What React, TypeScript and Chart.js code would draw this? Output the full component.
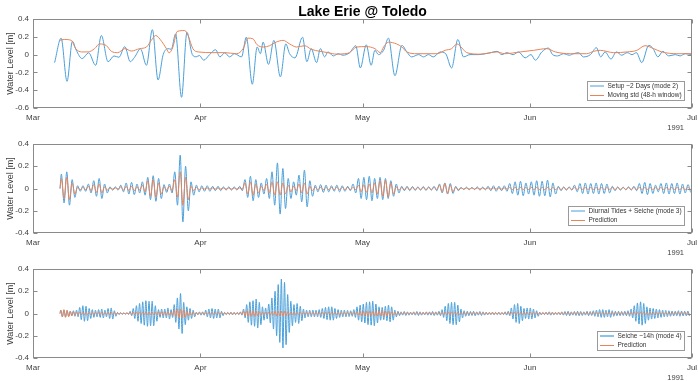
import { useEffect, useRef } from "react";
import { Chart, registerables } from "chart.js";
Chart.register(...registerables);

// ---------- axes ----------
const tickDays = [0, 31, 61, 92, 122]; // days since 1 Mar 1991
const tickLabels = ["Mar", "Apr", "May", "Jun", "Jul"];
const yearLabel = "1991";
const titleText = "Lake Erie @ Toledo";
const yLabel = "Water Level [m]";
const yTicks1 = [-0.6, -0.4, -0.2, 0, 0.2, 0.4];
const yTicks23 = [-0.4, -0.2, 0, 0.2, 0.4];

// ---------- panel 1: setup mode 2 (day, value) ----------
const setupDays = [4.0, 5.2, 6.3, 7.3, 8.0, 9.1, 10.3, 11.6, 12.65, 13.9, 15.0, 15.9, 17.0, 18.0, 18.8, 19.9, 21.0, 22.1, 23.15, 24.1, 25.0, 25.6, 26.4, 27.5, 28.5, 29.5, 30.2, 30.8, 31.6, 32.7, 33.8, 34.6, 35.5, 36.4, 37.3, 38.6, 39.5, 40.6, 41.5, 42.1, 42.6, 43.6, 44.6, 45.8, 46.8, 47.5, 48.5, 49.9, 50.7, 51.5, 52.5, 53.2, 54.0, 54.6, 55.6, 56.5, 57.4, 58.6, 59.75, 60.6, 61.7, 62.6, 63.3, 63.95, 64.9, 65.8, 67.0, 68.3, 69.2, 70.1, 71.4, 72.3, 73.2, 74.1, 75.4, 76.4, 77.5, 78.65, 79.7, 80.9, 82.5, 83.7, 84.8, 85.9, 86.8, 87.7, 88.9, 89.9, 91.1, 92.2, 93.0, 94.2, 95.4, 96.2, 97.1, 98.2, 99.3, 100.1, 101.0, 101.9, 103.2, 104.3, 105.1, 105.9, 107.0, 108.0, 109.0, 110.0, 110.9, 111.7, 112.7, 114.0, 114.8, 115.7, 116.6, 117.7, 118.9, 119.8, 120.75, 122.0];
const setupVals = [-0.09, 0.185, -0.3, 0.15, 0.05, -0.045, 0.02, -0.12, 0.215, -0.08, -0.015, -0.03, 0.09, -0.08, -0.03, 0.065, -0.12, 0.28, -0.285, 0.0, 0.067, 0.06, 0.233, -0.48, 0.25, 0.0, -0.025, -0.01, -0.063, 0.0, 0.055, -0.026, 0.02, -0.026, 0.01, -0.026, 0.196, -0.333, 0.085, 0.01, 0.14, -0.11, 0.16, -0.25, 0.12, 0.01, -0.037, 0.196, -0.08, 0.067, -0.09, 0.067, -0.026, 0.03, -0.015, 0.01, -0.007, 0.02, 0.1, -0.15, 0.11, -0.12, 0.048, 0.0, 0.048, 0.185, -0.237, 0.104, 0.03, -0.026, 0.0, -0.026, 0.0, -0.026, 0.03, 0.01, -0.15, 0.17, -0.026, 0.0, 0.0, 0.01, 0.022, 0.037, 0.0, 0.022, 0.0, 0.03, -0.037, 0.0, -0.063, 0.03, 0.074, 0.0, -0.015, 0.01, -0.007, 0.01, 0.022, -0.026, 0.0, 0.078, -0.026, 0.03, -0.05, 0.03, -0.007, 0.022, 0.0, 0.022, -0.09, 0.104, 0.067, -0.026, 0.037, -0.015, 0.0, -0.015, 0.01, 0.0];

// ---------- panel 1: moving std (day, value) ----------
const stdDays = [4.9, 5.8, 7.1, 7.9, 9.0, 10.2, 11.4, 12.3, 13.6, 14.5, 15.7, 17.0, 18.2, 19.75, 21.0, 21.9, 22.7, 23.8, 24.7, 25.2, 25.9, 26.7, 28.1, 28.7, 29.6, 30.6, 33.3, 35.5, 37.7, 38.9, 39.8, 40.7, 41.5, 42.6, 43.8, 45.0, 46.3, 47.5, 48.8, 50.3, 51.5, 53.1, 54.6, 56.2, 57.7, 58.6, 59.9, 61.7, 63.3, 64.3, 64.9, 65.8, 67.3, 68.3, 69.2, 71.1, 74.8, 76.3, 77.5, 78.5, 79.4, 80.3, 82.8, 85.9, 87.3, 90.2, 92.7, 95.1, 96.7, 99.5, 102.5, 103.8, 105.0, 107.5, 110.0, 111.8, 113.3, 114.9, 116.4, 119.2, 122.0];
const stdVals = [0.16, 0.17, 0.16, 0.067, 0.03, 0.03, 0.067, 0.12, 0.1, 0.037, 0.022, 0.067, 0.04, 0.067, 0.085, 0.16, 0.215, 0.15, 0.067, 0.02, 0.085, 0.26, 0.27, 0.215, 0.067, 0.03, 0.022, 0.022, 0.01, 0.067, 0.185, 0.178, 0.11, 0.085, 0.1, 0.14, 0.16, 0.12, 0.085, 0.1, 0.06, 0.037, 0.022, 0.005, 0.01, 0.022, 0.085, 0.09, 0.067, 0.022, 0.085, 0.14, 0.12, 0.085, 0.03, 0.01, 0.01, 0.048, 0.067, 0.12, 0.074, 0.022, 0.005, 0.03, 0.01, 0.03, 0.048, 0.067, 0.03, 0.01, 0.01, 0.037, 0.048, 0.022, 0.03, 0.048, 0.1, 0.067, 0.03, 0.01, 0.01];

// ---------- panel 2: diurnal + seiche mode 3, per-cycle amplitude (1-day cycles from day 5) ----------
const p2Start = 5.0;
const p2Period = 1.0;
const diurnalAmp = [
  0.13, 0.15, 0.08, 0.025, 0.025, 0.04, 0.07, 0.09, 0.04, 0.015,
  0.015, 0.03, 0.05, 0.055, 0.04, 0.06, 0.1, 0.115, 0.09, 0.035,
  0.04, 0.15, 0.3, 0.2, 0.06, 0.03, 0.025, 0.025, 0.02, 0.02,
  0.015, 0.015, 0.015, 0.02, 0.08, 0.11, 0.08, 0.05, 0.09, 0.15,
  0.23, 0.18, 0.09, 0.06, 0.12, 0.165, 0.07, 0.03, 0.035, 0.03,
  0.025, 0.03, 0.025, 0.02, 0.04, 0.09, 0.1, 0.11, 0.09, 0.1,
  0.09, 0.07, 0.04, 0.02, 0.02, 0.018, 0.015, 0.018, 0.015, 0.02,
  0.04, 0.05, 0.045, 0.02, 0.01, 0.012, 0.01, 0.015, 0.012, 0.02,
  0.025, 0.02, 0.025, 0.045, 0.06, 0.065, 0.05, 0.06, 0.07, 0.065,
  0.075, 0.05, 0.02, 0.015, 0.015, 0.03, 0.045, 0.05, 0.045, 0.05,
  0.045, 0.04, 0.02, 0.015, 0.012, 0.015, 0.02, 0.045, 0.055, 0.045,
  0.03, 0.045, 0.05, 0.045, 0.05, 0.04, 0.035,
];
const diurnalPredAmp = [
  0.09, 0.1, 0.05, 0.01, 0.01, 0.02, 0.035, 0.04, 0.015, 0.005,
  0.005, 0.015, 0.02, 0.02, 0.015, 0.03, 0.07, 0.08, 0.05, 0.015,
  0.02, 0.08, 0.15, 0.1, 0.02, 0.01, 0.005, 0.005, 0.005, 0.005,
  0.005, 0.005, 0.005, 0.005, 0.05, 0.06, 0.04, 0.02, 0.04, 0.06,
  0.06, 0.05, 0.03, 0.02, 0.04, 0.05, 0.02, 0.01, 0.01, 0.01,
  0.01, 0.01, 0.01, 0.01, 0.01, 0.03, 0.035, 0.04, 0.05, 0.07,
  0.075, 0.05, 0.015, 0.008, 0.008, 0.008, 0.008, 0.008, 0.008, 0.008,
  0.03, 0.045, 0.03, 0.01, 0.005, 0.005, 0.005, 0.005, 0.005, 0.005,
  0.005, 0.005, 0.005, 0.01, 0.01, 0.01, 0.01, 0.01, 0.01, 0.01,
  0.01, 0.01, 0.008, 0.008, 0.008, 0.008, 0.008, 0.008, 0.008, 0.008,
  0.008, 0.008, 0.008, 0.008, 0.008, 0.008, 0.008, 0.008, 0.008, 0.008,
  0.008, 0.008, 0.008, 0.008, 0.008, 0.008, 0.008,
];

// ---------- panel 3: seiche ~14h mode 4, per-cycle amplitude (14-h cycles from day 5) ----------
const p3Start = 5.0;
const p3Period = 14 / 24;
const seicheAmp = [
  0.03, 0.03, 0.025, 0.02, 0.025, 0.03, 0.055, 0.07, 0.065, 0.045,
  0.035, 0.03, 0.035, 0.04, 0.03, 0.045, 0.05, 0.025, 0.01, 0.008,
  0.006, 0.008, 0.02, 0.045, 0.07, 0.09, 0.105, 0.115, 0.11, 0.11,
  0.07, 0.035, 0.04, 0.04, 0.05, 0.035, 0.08, 0.14, 0.18, 0.1,
  0.06, 0.045, 0.03, 0.012, 0.015, 0.015, 0.03, 0.04, 0.045, 0.04,
  0.04, 0.02, 0.01, 0.01, 0.012, 0.01, 0.01, 0.015, 0.04, 0.08,
  0.105, 0.115, 0.13, 0.1, 0.06, 0.05, 0.085, 0.14, 0.2, 0.26,
  0.31, 0.28, 0.17, 0.11, 0.08, 0.09, 0.065, 0.04, 0.03, 0.03,
  0.03, 0.03, 0.035, 0.045, 0.055, 0.06, 0.06, 0.045, 0.035, 0.03,
  0.03, 0.028, 0.025, 0.035, 0.06, 0.075, 0.085, 0.1, 0.105, 0.11,
  0.085, 0.06, 0.055, 0.065, 0.075, 0.06, 0.03, 0.02, 0.015, 0.018,
  0.015, 0.012, 0.015, 0.018, 0.015, 0.012, 0.015, 0.015, 0.018, 0.015,
  0.02, 0.035, 0.065, 0.09, 0.1, 0.1, 0.075, 0.04, 0.025, 0.02,
  0.018, 0.02, 0.015, 0.018, 0.015, 0.012, 0.01, 0.012, 0.01, 0.012,
  0.01, 0.015, 0.02, 0.05, 0.08, 0.09, 0.065, 0.045, 0.05, 0.05,
  0.04, 0.025, 0.012, 0.01, 0.012, 0.015, 0.012, 0.01, 0.012, 0.015,
  0.018, 0.02, 0.015, 0.018, 0.02, 0.018, 0.015, 0.02, 0.018, 0.025,
  0.03, 0.035, 0.035, 0.03, 0.035, 0.025, 0.02, 0.02, 0.018, 0.02,
  0.025, 0.04, 0.07, 0.095, 0.105, 0.09, 0.06, 0.05, 0.045, 0.04,
  0.035, 0.03, 0.028, 0.025, 0.022, 0.02, 0.025, 0.022, 0.02, 0.022,
];
const seichePredAmp = [
  0.03, 0.035, 0.03, 0.02, 0.015, 0.012, 0.012, 0.01, 0.01, 0.01,
  0.01, 0.01, 0.01, 0.01, 0.01, 0.01, 0.01, 0.01, 0.005, 0.005,
  0.005, 0.005, 0.012, 0.012, 0.012, 0.012, 0.012, 0.012, 0.012, 0.012,
  0.012, 0.015, 0.015, 0.015, 0.015, 0.015, 0.03, 0.04, 0.04, 0.035,
  0.02, 0.015, 0.012, 0.008, 0.008, 0.008, 0.008, 0.008, 0.008, 0.008,
  0.008, 0.008, 0.008, 0.008, 0.008, 0.008, 0.008, 0.008, 0.02, 0.025,
  0.025, 0.025, 0.02, 0.015, 0.012, 0.012, 0.012, 0.015, 0.02, 0.02,
  0.022, 0.02, 0.015, 0.012, 0.01, 0.01, 0.01, 0.01, 0.01, 0.01,
  0.01, 0.01, 0.01, 0.01, 0.01, 0.01, 0.01, 0.01, 0.01, 0.01,
  0.01, 0.01, 0.01, 0.01, 0.015, 0.02, 0.02, 0.02, 0.018, 0.02,
  0.02, 0.022, 0.025, 0.02, 0.018, 0.015, 0.012, 0.008, 0.008, 0.008,
  0.008, 0.008, 0.008, 0.008, 0.008, 0.008, 0.008, 0.008, 0.008, 0.008,
  0.008, 0.01, 0.012, 0.012, 0.012, 0.01, 0.01, 0.008, 0.008, 0.008,
  0.008, 0.008, 0.008, 0.008, 0.008, 0.008, 0.008, 0.008, 0.008, 0.008,
  0.008, 0.008, 0.008, 0.01, 0.01, 0.01, 0.01, 0.01, 0.01, 0.01,
  0.01, 0.008, 0.008, 0.008, 0.008, 0.008, 0.008, 0.008, 0.008, 0.008,
  0.008, 0.008, 0.008, 0.008, 0.008, 0.008, 0.008, 0.008, 0.008, 0.008,
  0.008, 0.008, 0.008, 0.008, 0.008, 0.008, 0.008, 0.008, 0.008, 0.008,
  0.008, 0.01, 0.01, 0.01, 0.01, 0.01, 0.01, 0.01, 0.01, 0.008,
  0.008, 0.008, 0.008, 0.008, 0.008, 0.008, 0.008, 0.008, 0.008, 0.008,
];

// ---------- styling ----------
const BLUE = "#4a9fd9";
const ORANGE = "#e8845a";
const FONT = '"Liberation Sans", Arial, Helvetica, sans-serif';
const TEXT = "#404040";
const AXIS = "#8a8a8a";

type Pt = { x: number; y: number };
const pairs = (xs: number[], ys: number[]): Pt[] => xs.map((x, i) => ({ x, y: ys[i] }));
const cycles = (start: number, period: number, amps: number[]): Pt[] => {
  const pts: Pt[] = [{ x: start, y: 0 }];
  amps.forEach((a, i) => {
    pts.push({ x: start + period * (i + 0.25), y: a });
    pts.push({ x: start + period * (i + 0.75), y: -a });
  });
  return pts;
};

type Panel = {
  top: number;
  blue: Pt[];
  orange: Pt[];
  yTicks: number[];
  labels: [string, string];
  legendBlueWidth: number;
  legendBlueColor: string;
  title?: string;
};

const panels: Panel[] = [
  {
    top: 0,
    blue: pairs(setupDays, setupVals),
    orange: pairs(stdDays, stdVals),
    yTicks: yTicks1,
    labels: ["Setup ~2 Days (mode 2)", "Moving std (48-h window)"],
    legendBlueWidth: 1,
    legendBlueColor: BLUE,
    title: titleText,
  },
  {
    top: 125,
    blue: cycles(p2Start, p2Period, diurnalAmp),
    orange: cycles(p2Start, p2Period, diurnalPredAmp),
    yTicks: yTicks23,
    labels: ["Diurnal Tides + Seiche (mode 3)", "Prediction"],
    legendBlueWidth: 1,
    legendBlueColor: BLUE,
  },
  {
    top: 250,
    blue: cycles(p3Start, p3Period, seicheAmp),
    orange: cycles(p3Start, p3Period, seichePredAmp),
    yTicks: yTicks23,
    labels: ["Seiche ~14h (mode 4)", "Prediction"],
    legendBlueWidth: 2,
    legendBlueColor: "#8cc3ea",
  },
];

const fmt = (v: number) => String(Math.round(v * 10) / 10);

function PanelChart({ p }: { p: Panel }) {
  const ref = useRef<HTMLCanvasElement | null>(null);
  useEffect(() => {
    if (!ref.current) return;
    const decor = {
      id: "decor",
      afterDraw(chart: any) {
        const ctx = chart.ctx as CanvasRenderingContext2D;
        const a = chart.chartArea;
        const xs = chart.scales.x;
        const ys = chart.scales.y;
        ctx.save();
        // box
        ctx.strokeStyle = AXIS;
        ctx.lineWidth = 1;
        const L = Math.round(a.left) + 0.5;
        const R = Math.round(a.right) - 0.5;
        const T = Math.round(a.top) + 0.5;
        const B = Math.round(a.bottom) - 0.5;
        ctx.strokeRect(L, T, R - L, B - T);
        // inward ticks
        ctx.beginPath();
        tickDays.forEach((d) => {
          const x = Math.round(xs.getPixelForValue(d)) + 0.5;
          ctx.moveTo(x, T);
          ctx.lineTo(x, T + 4);
          ctx.moveTo(x, B);
          ctx.lineTo(x, B - 4);
        });
        p.yTicks.forEach((v) => {
          const y = Math.round(ys.getPixelForValue(v)) + 0.5;
          ctx.moveTo(L, y);
          ctx.lineTo(L + 4, y);
          ctx.moveTo(R, y);
          ctx.lineTo(R - 4, y);
        });
        ctx.stroke();
        // y label
        ctx.fillStyle = TEXT;
        ctx.font = `9px ${FONT}`;
        ctx.textAlign = "center";
        ctx.textBaseline = "middle";
        ctx.save();
        ctx.translate(11, (a.top + a.bottom) / 2);
        ctx.rotate(-Math.PI / 2);
        ctx.fillText(yLabel, 0, 0);
        ctx.restore();
        // year
        ctx.font = `7.5px ${FONT}`;
        ctx.textAlign = "right";
        ctx.fillText(yearLabel, 684, a.bottom + 19.5);
        // legend
        ctx.font = `6.5px ${FONT}`;
        const tw = Math.max(ctx.measureText(p.labels[0]).width, ctx.measureText(p.labels[1]).width);
        const bx1 = 684.5;
        const bx0 = Math.round(bx1 - 20 - tw - 3) + 0.5;
        const by0 = 81.5;
        const by1 = 100.5;
        ctx.fillStyle = "#ffffff";
        ctx.fillRect(bx0, by0, bx1 - bx0, by1 - by0);
        ctx.strokeStyle = "#9a9a9a";
        ctx.strokeRect(bx0, by0, bx1 - bx0, by1 - by0);
        const rows = [86, 95.5];
        const cols = [p.legendBlueColor, ORANGE];
        const lw = [p.legendBlueWidth, 1];
        rows.forEach((ry, i) => {
          ctx.strokeStyle = cols[i];
          ctx.lineWidth = lw[i];
          ctx.beginPath();
          ctx.moveTo(bx0 + 2.5, ry);
          ctx.lineTo(bx0 + 16.5, ry);
          ctx.stroke();
          ctx.fillStyle = "#333333";
          ctx.textAlign = "left";
          ctx.textBaseline = "middle";
          ctx.fillText(p.labels[i], bx0 + 20, ry);
        });
        // title
        if (p.title) {
          ctx.fillStyle = "#000000";
          ctx.font = `bold 14px ${FONT}`;
          ctx.textAlign = "center";
          ctx.textBaseline = "middle";
          ctx.fillText(p.title, (a.left + a.right) / 2, 12.5);
        }
        ctx.restore();
      },
    };
    const tickFont = { family: FONT, size: 8 };
    const chart = new Chart(ref.current, {
      type: "line",
      data: {
        datasets: [
          {
            data: p.orange,
            borderColor: ORANGE,
            borderWidth: 1,
            pointRadius: 0,
            cubicInterpolationMode: "monotone",
            order: 0,
          },
          {
            data: p.blue,
            borderColor: BLUE,
            borderWidth: 1,
            pointRadius: 0,
            cubicInterpolationMode: "monotone",
            order: 1,
          },
        ],
      },
      options: {
        animation: false,
        responsive: false,
        devicePixelRatio: 1,
        parsing: false,
        normalized: true,
        events: [],
        layout: { padding: { left: 0, right: 6, top: 19, bottom: 0 } },
        plugins: { legend: { display: false }, tooltip: { enabled: false }, title: { display: false } },
        scales: {
          x: {
            type: "linear",
            min: 0,
            max: 122,
            grid: { display: false, drawTicks: false },
            border: { display: false },
            ticks: {
              autoSkip: false,
              maxRotation: 0,
              padding: 5,
              font: tickFont,
              color: TEXT,
              callback: (v: any) => {
                const i = tickDays.indexOf(Number(v));
                return i >= 0 ? tickLabels[i] : "";
              },
            },
            afterBuildTicks: (s: any) => {
              s.ticks = tickDays.map((v) => ({ value: v }));
            },
            afterFit: (s: any) => {
              s.height = 22;
              s.paddingLeft = 0;
              s.paddingRight = 0;
            },
          },
          y: {
            type: "linear",
            min: p.yTicks[0],
            max: p.yTicks[p.yTicks.length - 1],
            grid: { display: false, drawTicks: false },
            border: { display: false },
            ticks: {
              padding: 4,
              font: tickFont,
              color: TEXT,
              callback: (v: any) => fmt(Number(v)),
            },
            afterBuildTicks: (s: any) => {
              s.ticks = p.yTicks.map((v) => ({ value: v }));
            },
            afterFit: (s: any) => {
              s.width = 33;
              s.paddingTop = 0;
              s.paddingBottom = 0;
            },
          },
        },
      },
      plugins: [decor],
    } as any);
    return () => chart.destroy();
  }, [p]);
  return (
    <canvas
      ref={ref}
      width={698}
      height={130}
      style={{ position: "absolute", left: 0, top: p.top, width: 698, height: 130 }}
    />
  );
}

export default function App() {
  return (
    <div style={{ position: "absolute", left: 0, top: 0, width: 698, height: 381, background: "#ffffff", overflow: "hidden" }}>
      {panels.map((p, i) => (
        <PanelChart key={i} p={p} />
      ))}
    </div>
  );
}
